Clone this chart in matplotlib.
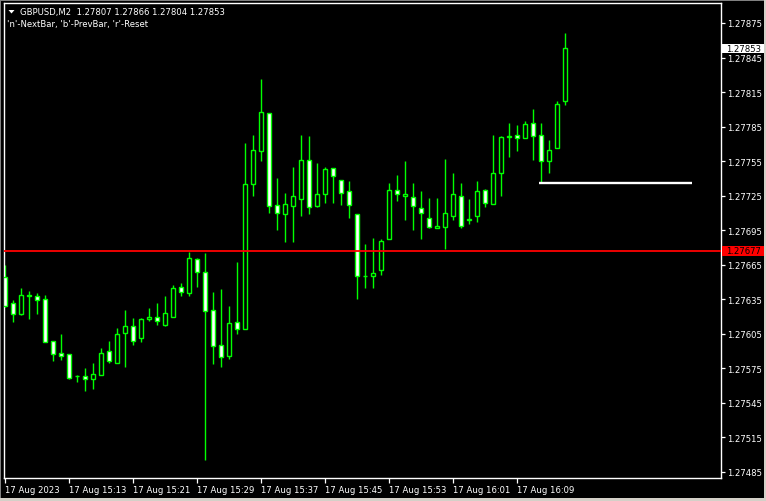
import matplotlib
matplotlib.use("Agg")
import matplotlib.pyplot as plt
import matplotlib.patches as mpatches
from matplotlib.transforms import blended_transform_factory

# ---------------- data ----------------
opens = [1.27654, 1.27632, 1.27622, 1.27639, 1.27638, 1.27635, 1.27599, 1.27588, 1.27587, 1.27568,
         1.27568, 1.27566, 1.27569, 1.27590, 1.27580, 1.27606, 1.27612, 1.27601, 1.27618, 1.27620,
         1.27613, 1.27620, 1.27646, 1.27640, 1.27670, 1.27659, 1.27626, 1.27595, 1.27586, 1.27615,
         1.27609, 1.27735, 1.27764, 1.27797, 1.27717, 1.27709, 1.27716, 1.27722, 1.27756, 1.27716,
         1.27726, 1.27749, 1.27739, 1.27729, 1.27709, 1.27655, 1.27655, 1.27660, 1.27687, 1.27730,
         1.27725, 1.27724, 1.27714, 1.27706, 1.27697, 1.27698, 1.27707, 1.27725, 1.27704, 1.27707,
         1.27730, 1.27718, 1.27745, 1.27776, 1.27778, 1.27775, 1.27788, 1.27778, 1.27755, 1.27766,
         1.27807]
highs = [1.27665, 1.27634, 1.27645, 1.27642, 1.27640, 1.27639, 1.27599, 1.27605, 1.27587, 1.27569,
         1.27575, 1.27580, 1.27593, 1.27599, 1.27610, 1.27626, 1.27619, 1.27619, 1.27627, 1.27632,
         1.27638, 1.27647, 1.27649, 1.27676, 1.27671, 1.27675, 1.27641, 1.27644, 1.27629, 1.27667,
         1.27771, 1.27778, 1.27826, 1.27797, 1.27740, 1.27727, 1.27750, 1.27778, 1.27777, 1.27753,
         1.27750, 1.27749, 1.27739, 1.27738, 1.27709, 1.27683, 1.27688, 1.27687, 1.27736, 1.27743,
         1.27755, 1.27736, 1.27729, 1.27723, 1.27723, 1.27757, 1.27745, 1.27736, 1.27722, 1.27738,
         1.27731, 1.27778, 1.27777, 1.27788, 1.27786, 1.27790, 1.27800, 1.27788, 1.27773, 1.27807,
         1.27866]
lows = [1.27628, 1.27615, 1.27621, 1.27618, 1.27622, 1.27598, 1.27581, 1.27582, 1.27566, 1.27563,
        1.27555, 1.27557, 1.27569, 1.27580, 1.27580, 1.27576, 1.27595, 1.27598, 1.27616, 1.27613,
        1.27612, 1.27620, 1.27638, 1.27638, 1.27646, 1.27495, 1.27579, 1.27576, 1.27583, 1.27605,
        1.27609, 1.27725, 1.27755, 1.27710, 1.27695, 1.27685, 1.27685, 1.27707, 1.27709, 1.27715,
        1.27719, 1.27719, 1.27717, 1.27706, 1.27635, 1.27645, 1.27645, 1.27656, 1.27687, 1.27720,
        1.27704, 1.27695, 1.27687, 1.27697, 1.27697, 1.27679, 1.27704, 1.27697, 1.27700, 1.27702,
        1.27715, 1.27718, 1.27725, 1.27759, 1.27764, 1.27775, 1.27756, 1.27736, 1.27745, 1.27766,
        1.27804]
closes = [1.27629, 1.27622, 1.27639, 1.27638, 1.27634, 1.27598, 1.27587, 1.27586, 1.27567, 1.27568,
          1.27566, 1.27570, 1.27588, 1.27581, 1.27605, 1.27612, 1.27599, 1.27618, 1.27620, 1.27616,
          1.27623, 1.27645, 1.27641, 1.27671, 1.27659, 1.27625, 1.27594, 1.27585, 1.27614, 1.27609,
          1.27735, 1.27765, 1.27798, 1.27716, 1.27710, 1.27718, 1.27725, 1.27756, 1.27715, 1.27726,
          1.27748, 1.27742, 1.27727, 1.27717, 1.27655, 1.27655, 1.27658, 1.27686, 1.27730, 1.27726,
          1.27726, 1.27716, 1.27710, 1.27698, 1.27699, 1.27710, 1.27726, 1.27699, 1.27705, 1.27729,
          1.27719, 1.27745, 1.27776, 1.27777, 1.27775, 1.27787, 1.27777, 1.27755, 1.27765, 1.27805,
          1.27853]

price_ticks = [1.27485, 1.27515, 1.27545, 1.27575, 1.27605, 1.27635, 1.27665,
               1.27695, 1.27725, 1.27755, 1.27785, 1.27815, 1.27845, 1.27875]
price_tick_labels = ["1.27485", "1.27515", "1.27545", "1.27575", "1.27605", "1.27635", "1.27665",
                     "1.27695", "1.27725", "1.27755", "1.27785", "1.27815", "1.27845", "1.27875"]
time_tick_bars = [0, 8, 16, 24, 32, 40, 48, 56, 64]
time_tick_labels = ["17 Aug 2023", "17 Aug 15:13", "17 Aug 15:21", "17 Aug 15:29", "17 Aug 15:37",
                    "17 Aug 15:45", "17 Aug 15:53", "17 Aug 16:01", "17 Aug 16:09"]

current_price = 1.27853
current_label = "1.27853"
red_level = 1.27677
red_label = "1.27677"
white_level = 1.27736
white_start, white_end = 66.7, 85.85

title_text = "GBPUSD,M2  1.27807 1.27866 1.27804 1.27853"
hint_text = "'n'-NextBar, 'b'-PrevBar, 'r'-Reset"

# ---------------- figure ----------------
W, H = 766, 502
fig = plt.figure(figsize=(W / 100, H / 100), dpi=100, facecolor="black")
FONT = "DejaVu Sans"
FS = 6.1

left_px, right_px, top_px, bottom_px = 3.5, 720.5, 3.5, 479.0
ax = fig.add_axes([left_px / W, 1 - bottom_px / H, (right_px - left_px) / W, (bottom_px - top_px) / H])
ax.set_facecolor("black")

green = "#00ff00"
n = len(opens)
xs = list(range(n))

ax.vlines(xs, lows, highs, colors=green, linewidth=1.0, zorder=2)
fills = ["black" if c >= o else "white" for o, c in zip(opens, closes)]
heights = [c - o for o, c in zip(opens, closes)]
ax.bar(xs, heights, bottom=opens, width=0.5, color=fills, edgecolor=green, linewidth=1.0, zorder=3)

ax.axhline(red_level, color="#ff0000", linewidth=1.3, zorder=4)
ax.hlines(white_level, white_start, white_end, colors="white", linewidth=1.7, zorder=4)

ax.set_xlim(-0.225, 89.4)
ax.set_ylim(1.274797, 1.278928)

for s in ax.spines.values():
    s.set_color("white")
    s.set_linewidth(1.0)

ax.yaxis.tick_right()
ax.set_yticks(price_ticks)
ax.set_yticklabels(price_tick_labels, fontsize=FS, family=FONT, color="white")
ax.tick_params(axis="y", colors="white", length=3, width=0.9, pad=1.5, direction="out")

ax.set_xticks(time_tick_bars)
ax.set_xticklabels(time_tick_labels, fontsize=FS, family=FONT, color="white", ha="left")
ax.tick_params(axis="x", colors="white", length=3.5, width=0.9, pad=1.5, direction="out")

# price boxes on the right scale
pxunit = (1.278928 - 1.274797) / (bottom_px - top_px)
bt = blended_transform_factory(fig.transFigure, ax.transData)
for price, label, fc in [(current_price, current_label, "white"), (red_level, red_label, "#ff0000")]:
    rect = mpatches.Rectangle((721.5 / W, price - 4.8 * pxunit), 44.5 / W, 9.6 * pxunit,
                              transform=bt, facecolor=fc, edgecolor="none", clip_on=False, zorder=10)
    ax.add_patch(rect)
    ax.text(726.5 / W, price, label, transform=bt, fontsize=FS, family=FONT, color="black",
            ha="left", va="center", zorder=11, clip_on=False)

# header texts
def fp(x, y):
    return (x / W, 1 - y / H)

tri = mpatches.Polygon([fp(8.5, 11), fp(14.5, 11), fp(11.5, 14.5)], closed=True,
                       transform=fig.transFigure, facecolor="white", edgecolor="none")
fig.patches.append(tri)
fig.text(*fp(20, 12.5), title_text, fontsize=FS, family=FONT, color="white", ha="left", va="center")
fig.text(*fp(7, 25), hint_text, fontsize=FS, family=FONT, color="white", ha="left", va="center")

# window edges
for (x0, y0, w, h, c) in [(0, 0, 1.5, H, "#808080"), (0, 0, W, 1.5, "#808080"),
                          (W - 2.5, 0, 2.5, H, "#d4d0c8"), (0, H - 3, W, 3, "#d4d0c8")]:
    fig.patches.append(mpatches.Rectangle((x0 / W, 1 - (y0 + h) / H), w / W, h / H,
                                          transform=fig.transFigure, facecolor=c, edgecolor="none"))

fig.savefig("out.png", dpi=100, facecolor="black")
